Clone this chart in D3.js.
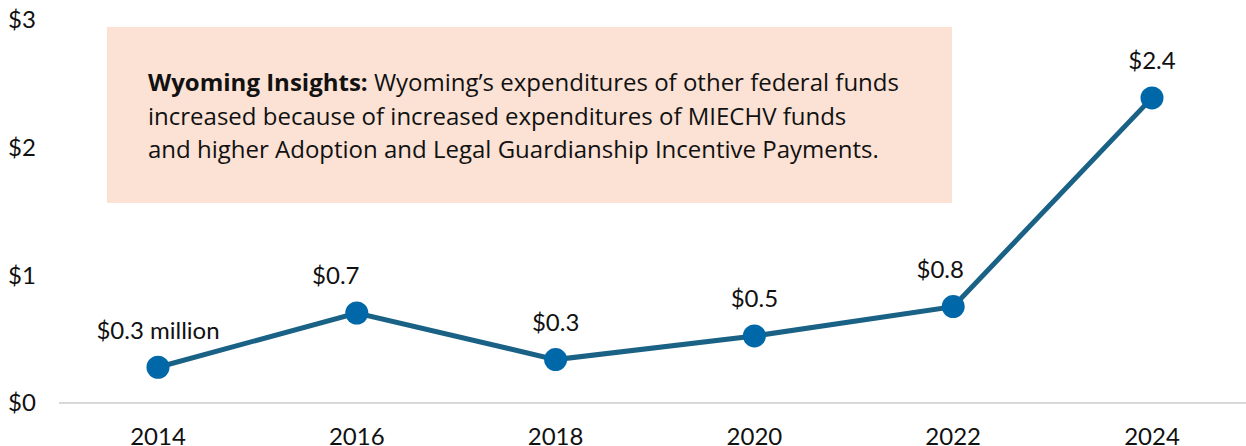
<!DOCTYPE html>
<html>
<head>
<meta charset="utf-8">
<script src="https://cdn.jsdelivr.net/npm/d3@7"></script>
<style>
  body { margin: 0; background: #fff; }
  #chart text { font-family: Lato, "Open Sans", sans-serif; fill: #111; }
  #chart text.note { font-family: "Open Sans", Lato, sans-serif; }
</style>
</head>
<body>
<div id="chart"></div>
<script>
const years = ["2014", "2016", "2018", "2020", "2022", "2024"];
const spending = [0.28, 0.705, 0.34, 0.525, 0.755, 2.39];
const pointLabels = ["$0.3 million", "$0.7", "$0.3", "$0.5", "$0.8", "$2.4"];
const yTicks = [0, 1, 2, 3];
const noteBold = "Wyoming Insights:";
const noteLines = [
  " Wyoming\u2019s expenditures of other federal funds",
  "increased because of increased expenditures of MIECHV funds",
  "and higher Adoption and Legal Guardianship Incentive Payments."
];
// nudges for labels that were dragged off-center in the original
const labelShift = [0, -21, 0, 0, -13, 0];

const width = 1246, height = 446;
const svg = d3.select("#chart")
    .append("svg")
    .attr("width", width)
    .attr("height", height);

const x = d3.scalePoint()
    .domain(years)
    .range([158, 1152]);

const y = d3.scaleLinear()
    .domain([0, 3])
    .range([403, 20]);

// callout box
svg.append("rect")
    .attr("x", 107).attr("y", 27)
    .attr("width", 845).attr("height", 176)
    .attr("fill", "#fbe2d5");

const note = svg.append("text")
    .attr("class", "note")
    .attr("x", 148)
    .attr("y", 91)
    .style("font-size", "24px");
note.append("tspan").attr("font-weight", "bold").text(noteBold);
note.append("tspan").text(noteLines[0]);
noteLines.slice(1).forEach((line, i) => {
  svg.append("text")
      .attr("class", "note")
      .attr("x", 148)
      .attr("y", 91 + (i + 1) * 33.5)
      .style("font-size", "24px")
      .text(line);
});

// baseline
svg.append("line")
    .attr("x1", 59).attr("x2", 1246)
    .attr("y1", y(0)).attr("y2", y(0))
    .attr("stroke", "#d9d9d9")
    .attr("stroke-width", 2);

// y axis labels
svg.append("g")
    .selectAll("text")
    .data(yTicks)
    .enter()
    .append("text")
    .attr("x", 8)
    .attr("y", d => y(d))
    .attr("dy", "0.35em")
    .style("font-size", "24px")
    .text(d => "$" + d);

// x axis labels
svg.append("g")
    .selectAll("text")
    .data(years)
    .enter()
    .append("text")
    .attr("x", d => x(d))
    .attr("y", 437)
    .attr("dy", "0.35em")
    .style("text-anchor", "middle")
    .style("font-size", "24px")
    .text(d => d);

const pts = years.map((yr, i) => ({ year: yr, value: spending[i], label: pointLabels[i], shift: labelShift[i] }));

const line = d3.line()
    .x(d => x(d.year))
    .y(d => y(d.value));

svg.append("path")
    .datum(pts)
    .attr("fill", "none")
    .attr("stroke", "#1a6186")
    .attr("stroke-width", 5)
    .attr("d", line);

svg.selectAll("circle")
    .data(pts)
    .enter()
    .append("circle")
    .attr("cx", d => x(d.year))
    .attr("cy", d => y(d.value))
    .attr("r", 11.5)
    .attr("fill", "#0068a8");

svg.append("g")
    .selectAll("text")
    .data(pts)
    .enter()
    .append("text")
    .attr("x", d => x(d.year) + d.shift)
    .attr("y", d => y(d.value) - 37)
    .attr("dy", "0.35em")
    .style("text-anchor", "middle")
    .style("font-size", "24px")
    .text(d => d.label);
</script>
</body>
</html>
